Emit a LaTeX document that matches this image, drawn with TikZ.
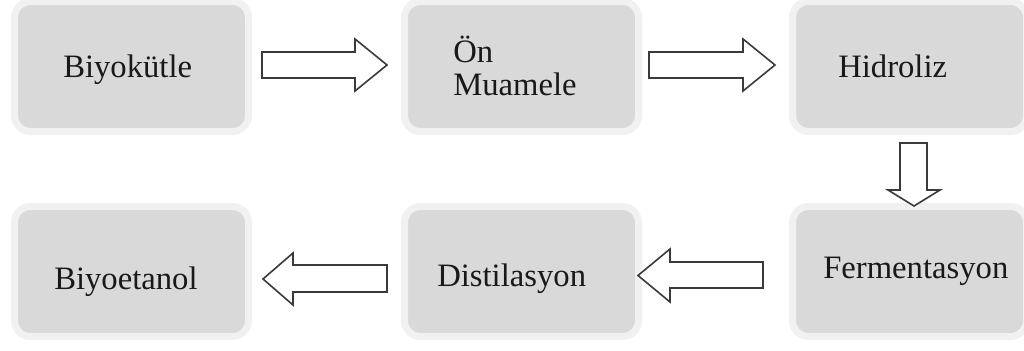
\documentclass[tikz,border=0pt]{standalone}
\usepackage{fontspec}
\setmainfont{Liberation Serif}
\begin{document}
\begin{tikzpicture}[x=0.75pt,y=-0.75pt,
  stagebox/.style={draw=ringgray,fill=boxgray,line width=5.25pt,rounded corners=12pt,
    minimum width=175.5pt,minimum height=97.5pt,inner sep=0pt},
  stagetext/.style={anchor=base west,inner sep=0pt,font=\fontsize{24.5}{29}\selectfont,text=black!90},
  blockarrow/.style={draw=arrowgray,fill=white,line width=1.2pt,line join=miter}]
\definecolor{boxgray}{HTML}{D9D9D9}
\definecolor{ringgray}{HTML}{F1F1F1}
\definecolor{arrowgray}{HTML}{3A3A3A}
\useasboundingbox[fill=white] (0,0) rectangle (1024,350);

% process stages
\node[stagebox] (biyokutle) at (131.5,66.5) {};
\node[stagebox] (onmuamele) at (521.5,66.5) {};
\node[stagebox] (hidroliz) at (909.5,66.5) {};
\node[stagebox] (fermentasyon) at (909.5,271.5) {};
\node[stagebox] (distilasyon) at (521.5,271.5) {};
\node[stagebox] (biyoetanol) at (131.5,271.5) {};

% stage names
\node[stagetext] (t1) at (63,77) {Biyokütle};
\node[stagetext] (t2a) at (453,62) {Ön};
\node[stagetext] (t2b) at (453,95) {Muamele};
\node[stagetext] (t3) at (838,77) {Hidroliz};
\node[stagetext] (t4) at (823,278) {Fermentasyon};
\node[stagetext] (t5) at (437,286) {Distilasyon};
\node[stagetext] (t6) at (54,289) {Biyoetanol};

% hollow block arrows between the stages
\draw[blockarrow] (262,52) -- (355,52) -- (355,39) -- (387,65) -- (355,91) -- (355,78) -- (262,78) -- cycle;
\draw[blockarrow] (649,52) -- (743,52) -- (743,39) -- (775,65) -- (743,91) -- (743,78) -- (649,78) -- cycle;
\draw[blockarrow] (900,143) -- (927,143) -- (927,190) -- (940,190) -- (914,206) -- (888,190) -- (900,190) -- cycle;
\draw[blockarrow] (763,262) -- (670,262) -- (670,249) -- (638,275.5) -- (670,302) -- (670,288) -- (763,288) -- cycle;
\draw[blockarrow] (387,265) -- (293,265) -- (293,253) -- (263,279) -- (293,305) -- (293,292) -- (387,292) -- cycle;
\end{tikzpicture}
\end{document}
